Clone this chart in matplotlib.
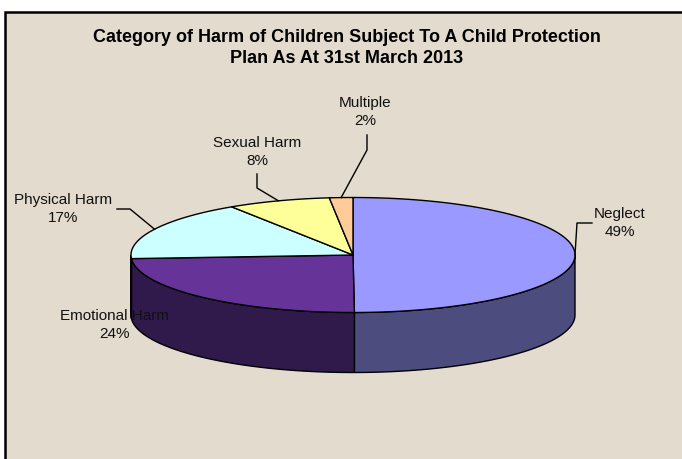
import numpy as np
import matplotlib
matplotlib.use("Agg")
import matplotlib.pyplot as plt
from matplotlib.patches import Polygon, Rectangle

# ---- data ----
categories = ["Neglect", "Emotional Harm", "Physical Harm", "Sexual Harm", "Multiple"]
values = [49.9, 24.1, 16.8, 7.5, 1.7]
pct_labels = ["49%", "24%", "17%", "8%", "2%"]  # labels as printed
top_colors = ["#9999FF", "#663399", "#CCFFFF", "#FFFF99", "#FFCC99"]
side_colors = ["#4C4C7F", "#30194B", "#668080", "#80804C", "#80664C"]
title = "Category of Harm of Children Subject To A Child Protection\nPlan As At 31st March 2013"

plt.rcParams['font.family'] = ['Liberation Sans', 'DejaVu Sans']

fig = plt.figure(figsize=(6.82, 4.59), dpi=100)
fig.patch.set_facecolor("white")
ax = fig.add_axes([0, 0, 1, 1])
ax.set_xlim(0, 682)
ax.set_ylim(459, 0)
ax.axis("off")

# chart area
ax.add_patch(Rectangle((5, 12), 690, 460, facecolor="#E3DBCD", edgecolor="black", lw=1.8, zorder=0))

ax.text(347, 48, title, ha="center", va="center", fontsize=13, fontweight="bold",
        linespacing=1.3, color="black")

# pie geometry
cx, cy, rx, ry, depth = 353, 255, 222, 57.5, 60
frac = np.array(values) / np.sum(values)
cum = np.concatenate([[0], np.cumsum(frac)])
theta_start = 90 - 360 * cum[:-1]
theta_end = 90 - 360 * cum[1:]

def ell(t, dy=0.0):
    t = np.radians(t)
    return np.column_stack([cx + rx * np.cos(t), cy - ry * np.sin(t) + dy])

# side walls (front half only: angles in [-180, 0])
for i in range(len(values)):
    a, b = theta_start[i], theta_end[i]   # a > b
    lo, hi = max(b, -180), min(a, 0)
    if hi > lo:
        ts = np.linspace(hi, lo, 120)
        top = ell(ts)
        bot = ell(ts[::-1], depth)
        ax.add_patch(Polygon(np.vstack([top, bot]), closed=True, facecolor=side_colors[i],
                             edgecolor="black", lw=1.0, zorder=2))

# top faces
for i in range(len(values)):
    ts = np.linspace(theta_start[i], theta_end[i], 200)
    pts = np.vstack([[cx, cy], ell(ts)])
    ax.add_patch(Polygon(pts, closed=True, facecolor=top_colors[i], edgecolor="black",
                         lw=1.0, zorder=3, joinstyle="round"))

# labels
label_pos = {
    0: (620, 223),
    1: (114, 325),
    2: (63, 209),
    3: (257, 152),
    4: (365, 112),
}
elbows = {
    0: [(592, 223), (577, 223)],
    2: [(117, 209), (130, 209)],
    3: [(257, 174), (257, 188)],
    4: [(367, 135), (367, 150)],
}
mid = (theta_start + theta_end) / 2
for i in range(len(values)):
    x, y = label_pos[i]
    ax.text(x, y, f"{categories[i]}\n{pct_labels[i]}", ha="center", va="center",
            fontsize=11, linespacing=1.4, color="#111111", zorder=5)
    if i in elbows:
        end = ell(np.array([mid[i]]))[0]
        pts = np.array(elbows[i] + [tuple(end)])
        ax.plot(pts[:, 0], pts[:, 1], color="black", lw=1.0, zorder=4)

fig.savefig("out.png", dpi=100)
